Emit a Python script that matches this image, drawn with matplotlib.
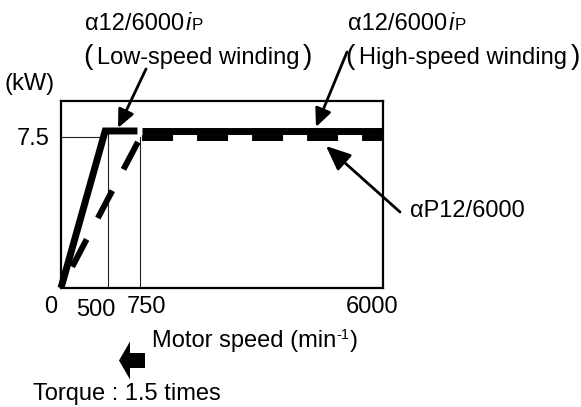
import numpy as np
import matplotlib
matplotlib.use("Agg")
import matplotlib.pyplot as plt
from matplotlib.patches import FancyArrow

plt.rcParams['font.family'] = ['Liberation Sans', 'DejaVu Sans']
plt.rcParams['lines.scale_dashes'] = False

# ---------------- data ----------------
speed_ticks = [0, 500, 750, 6000]
speed_tick_labels = ['0', '500', '750', '6000']
rated_kw = 7.5
rated_label = '7.5'

low_speed_x = [0, 470, 730]
low_speed_y = [0, 7.8, 7.8]
high_speed_x = [790, 6000]
high_speed_y = [7.8, 7.8]
ap_rise_x = [0, 750]
ap_rise_y = [0, 7.45]
ap_flat_x = [750, 6000]
ap_flat_y = [7.45, 7.45]

guide_x = [500, 750]
guide_top = [7.75, 7.5]
rated_line_x = [0, 470]

# ---------------- layout ----------------
W, H = 581, 407
FS = 17
fig = plt.figure(figsize=(W / 100, H / 100), dpi=100)
ax = fig.add_axes([61 / W, 1 - 288 / H, 322 / W, 187 / H])

knots_data = [0, 500, 750, 6000]
knots_pos = [0, 47, 79, 322]
fwd = lambda x: np.interp(x, knots_data, knots_pos)
inv = lambda p: np.interp(p, knots_pos, knots_data)
ax.set_xscale('function', functions=(fwd, inv))
ax.set_xlim(0, 6000)
ax.set_ylim(0, 9.29)
ax.set_xticks([])
ax.set_yticks([])
for s in ax.spines.values():
    s.set_linewidth(1.6)
    s.set_color('black')

thin = dict(color='#222222', lw=0.8)
ax.plot(rated_line_x, [rated_kw, rated_kw], **thin)
for gx, gt in zip(guide_x, guide_top):
    ax.plot([gx, gx], [0, gt], **thin)

ax.plot(ap_rise_x, ap_rise_y, color='black', lw=4.3,
        linestyle=(22.3, (22.3, 17.3)), dash_capstyle='butt', clip_on=False)
ax.plot(ap_flat_x, ap_flat_y, color='black', lw=4.3,
        linestyle=(-1.5, (22.3, 17.3)), dash_capstyle='butt', clip_on=False)
ax.plot(low_speed_x, low_speed_y, color='black', lw=5.0,
        solid_capstyle='butt', solid_joinstyle='miter', clip_on=False)
ax.plot(high_speed_x, high_speed_y, color='black', lw=5.0,
        solid_capstyle='butt', clip_on=False)

# tick labels
px = 0.72
offs = [(-10, 25), (-12, 28), (7, 25), (-11, 25)]
for v, lab, (dx, dy) in zip(speed_ticks, speed_tick_labels, offs):
    ax.annotate(lab, xy=(v, 0), xytext=(dx * px, -dy * px), textcoords='offset points',
                ha='center', va='baseline', fontsize=FS, annotation_clip=False)
ax.annotate(rated_label, xy=(0, rated_kw), xytext=(-11 * px, -8 * px), textcoords='offset points',
            ha='right', va='baseline', fontsize=FS, annotation_clip=False)

renderer = fig.canvas.get_renderer()


def ftext(x, y, s, **kw):
    return fig.text(x / W, 1 - y / H, s, fontsize=kw.pop('fontsize', FS), **kw)


def chain(x, y, pieces):
    """pieces: (text, fontsize, gap_px, raise_px, style)"""
    cx = x
    for s, size, gap, rise, style in pieces:
        cx += gap
        t = ftext(cx, y - rise, s, fontsize=size, style=style, ha='left', va='baseline')
        bb = t.get_window_extent(renderer)
        cx = bb.x1


chain(85, 30, [('α12/6000', FS, 0, 0, 'normal'), ('i', FS, 1.5, 0, 'italic'),
               ('P', FS * 0.72, 1, 0, 'normal')])
chain(348, 30, [('α12/6000', FS, 0, 0, 'normal'), ('i', FS, 1.5, 0, 'italic'),
                ('P', FS * 0.72, 1, 0, 'normal')])

PFS = FS * 1.2
ftext(83, 64, '(', fontsize=PFS, ha='left', va='baseline')
ftext(97, 64, 'Low-speed winding', ha='left', va='baseline')
ftext(312, 64, ')', fontsize=PFS, ha='right', va='baseline')
ftext(345, 64, '(', fontsize=PFS, ha='left', va='baseline')
ftext(359, 64, 'High-speed winding', ha='left', va='baseline')
ftext(580, 64, ')', fontsize=PFS, ha='right', va='baseline')

ftext(5, 90, '(kW)', ha='left', va='baseline')
ftext(410, 217, 'αP12/6000', ha='left', va='baseline')
chain(152, 347, [('Motor speed (min', FS, 0, 0, 'normal'), ('-1', FS * 0.62, 0.5, 8, 'normal'),
                 (')', FS, 0.5, 0, 'normal')])
ftext(33, 400, 'Torque : 1.5 times', ha='left', va='baseline')

# annotation arrows (image pixel coords)
arrows = [((146, 69), (118, 128)), ((347, 52), (316, 127)), ((400, 212), (326, 146))]
heads = [(1.1, 0.5), (1.1, 0.5), (1.5, 0.65)]
for ((tx, ty), (hx, hy)), (hl, hw) in zip(arrows, heads):
    ax.annotate('', xy=(hx, H - hy), xycoords='figure pixels',
                xytext=(tx, H - ty), textcoords='figure pixels',
                arrowprops=dict(arrowstyle=f'-|>,head_length={hl},head_width={hw}',
                                mutation_scale=10, lw=2.0, color='black',
                                shrinkA=0, shrinkB=0))

# block arrow
fa = FancyArrow(145 / 100, (H - 360.5) / 100, -26 / 100, 0, width=15 / 100,
                head_width=38 / 100, head_length=11 / 100, length_includes_head=True,
                transform=fig.dpi_scale_trans, color='black', lw=0)
fig.add_artist(fa)

fig.savefig('out.png', dpi=100)
